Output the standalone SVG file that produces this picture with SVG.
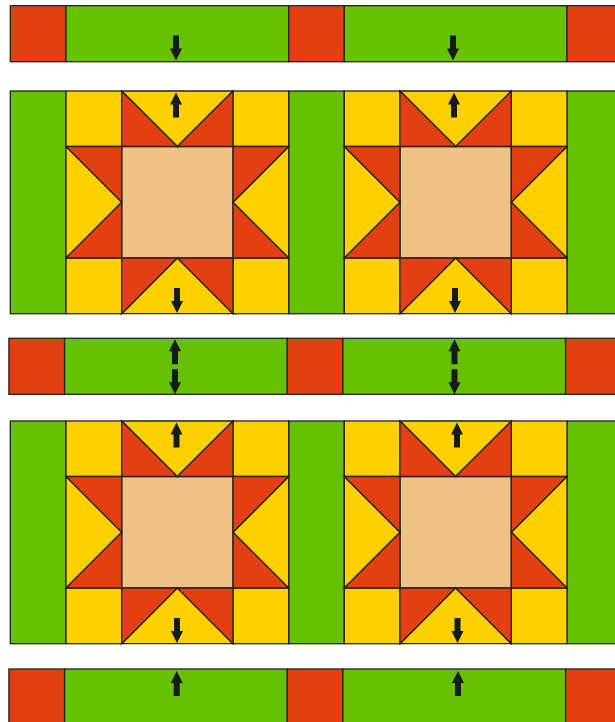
<svg xmlns="http://www.w3.org/2000/svg" xmlns:xlink="http://www.w3.org/1999/xlink" width="615" height="722" viewBox="0 0 615 722">
<style>
.r{fill:#E43F12}.g{fill:#66C200}.y{fill:#FFD000}.t{fill:#EEC284}
rect,polygon{stroke:#222;stroke-width:1.3;stroke-linejoin:miter}
.arrow{fill:#161A18;stroke:none}
</style>
<defs>
<g id="blk">
<rect class="y" x="0" y="0" width="55.7" height="55.5"/>
<rect class="y" x="167" y="0" width="55.7" height="55.5"/>
<rect class="y" x="0" y="167" width="55.7" height="55.7"/>
<rect class="y" x="167" y="167" width="55.7" height="55.7"/>
<rect class="t" x="55.7" y="55.5" width="111.3" height="111.5"/>
<polygon class="y" points="55.7,0 167,0 111.3,55.5"/>
<polygon class="r" points="55.7,0 111.3,55.5 55.7,55.5"/>
<polygon class="r" points="167,0 111.3,55.5 167,55.5"/>
<polygon class="y" points="55.7,222.7 167,222.7 111.3,167"/>
<polygon class="r" points="55.7,167 111.3,167 55.7,222.7"/>
<polygon class="r" points="167,167 111.3,167 167,222.7"/>
<polygon class="y" points="0,55.5 0,167 55.7,111.3"/>
<polygon class="r" points="0,55.5 55.7,55.5 55.7,111.3"/>
<polygon class="r" points="0,167 55.7,167 55.7,111.3"/>
<polygon class="y" points="222.7,55.5 222.7,167 167,111.3"/>
<polygon class="r" points="222.7,55.5 167,55.5 167,111.3"/>
<polygon class="r" points="222.7,167 167,167 167,111.3"/>
</g>
<g id="sash">
<rect class="r" x="10.3" y="0" width="55.7" height="56"/>
<rect class="g" x="66" y="0" width="222.7" height="56"/>
<rect class="r" x="288.7" y="0" width="55.6" height="56"/>
<rect class="g" x="344.3" y="0" width="222.7" height="56"/>
<rect class="r" x="567" y="0" width="55.7" height="56"/>
</g>
<g id="vs">
<rect class="g" x="10.3" y="0" width="55.7" height="222.7"/>
<rect class="g" x="288.7" y="0" width="55.6" height="222.7"/>
<rect class="g" x="567" y="0" width="55.7" height="222.7"/>
</g>
<path id="ad" class="arrow" d="M-3,-25 H3 V-12 H6 L0,0 L-6,-12 H-3 Z"/>
</defs>
<g id="sashing-top"><use xlink:href="#sash" transform="translate(0,5.7)"/></g>
<g id="row1">
<use xlink:href="#vs" transform="translate(0,91)"/>
<g id="block-1-1"><use xlink:href="#blk" transform="translate(66,91)"/></g>
<g id="block-1-2"><use xlink:href="#blk" transform="translate(344.3,91)"/></g>
</g>
<g id="sashing-middle"><use xlink:href="#sash" transform="translate(-1.4,338.3)"/></g>
<g id="row2">
<use xlink:href="#vs" transform="translate(0,421)"/>
<g id="block-2-1"><use xlink:href="#blk" transform="translate(66,421)"/></g>
<g id="block-2-2"><use xlink:href="#blk" transform="translate(344.3,421)"/></g>
</g>
<g id="sashing-bottom"><use xlink:href="#sash" transform="translate(-1.4,669)"/></g>
<g id="arrows">
<use xlink:href="#ad" transform="translate(176,60.5)"/>
<use xlink:href="#ad" transform="translate(453,60.5)"/>
<use xlink:href="#ad" transform="translate(176,92.5) rotate(180)"/>
<use xlink:href="#ad" transform="translate(454,92.5) rotate(180)"/>
<use xlink:href="#ad" transform="translate(177,313)"/>
<use xlink:href="#ad" transform="translate(455,313)"/>
<use xlink:href="#ad" transform="translate(175,339.3) rotate(180)"/>
<use xlink:href="#ad" transform="translate(175,394.3)"/>
<use xlink:href="#ad" transform="translate(454.5,339.3) rotate(180)"/>
<use xlink:href="#ad" transform="translate(454.5,394.3)"/>
<use xlink:href="#ad" transform="translate(176.5,422.5) rotate(180)"/>
<use xlink:href="#ad" transform="translate(457,422.5) rotate(180)"/>
<use xlink:href="#ad" transform="translate(177,643)"/>
<use xlink:href="#ad" transform="translate(457.5,643)"/>
<use xlink:href="#ad" transform="translate(176.7,671) rotate(180)"/>
<use xlink:href="#ad" transform="translate(458,671) rotate(180)"/>
</g>
</svg>
